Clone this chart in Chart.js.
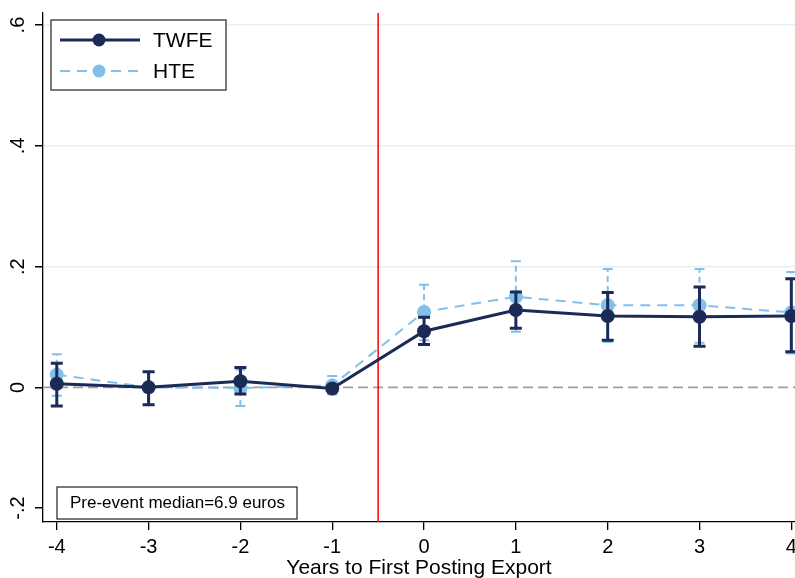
<!DOCTYPE html>
<html>
<head>
<meta charset="utf-8">
<script src="https://cdn.jsdelivr.net/npm/chart.js@4"></script>
<style>
  body { margin: 0; background: #fff; }
  #wrap { width: 795px; height: 578px; }
</style>
</head>
<body>
<div id="wrap"><canvas id="myChart" width="795" height="578"></canvas></div>
<script>
// event time
const years = [-4, -3, -2, -1, 0, 1, 2, 3, 4];
// TWFE estimates and 95% CI
const twfe   = [0.006, 0.000, 0.010, -0.002, 0.093, 0.128, 0.118, 0.117, 0.118];
const twfeLo = [-0.031, -0.029, -0.011, -0.005, 0.071, 0.098, 0.078, 0.068, 0.059];
const twfeHi = [0.040, 0.026, 0.033, 0.002, 0.116, 0.158, 0.157, 0.166, 0.180];
// HTE estimates and 95% CI
const hte   = [0.021, 0.000, -0.001, 0.003, 0.125, 0.150, 0.136, 0.136, 0.124];
const hteLo = [-0.014, 0.000, -0.031, -0.012, 0.078, 0.092, 0.075, 0.074, 0.056];
const hteHi = [0.055, 0.000, 0.029, 0.019, 0.170, 0.209, 0.196, 0.196, 0.191];

const xTicks = [-4, -3, -2, -1, 0, 1, 2, 3, 4];
const yTicks = [-0.2, 0, 0.2, 0.4, 0.6];
const yTickLabels = ['-.2', '0', '.2', '.4', '.6'];
const eventLine = -0.5;
const noteText = 'Pre-event median=6.9 euros';

const NAVY = '#1b2a56';
const LIGHT = '#82c0eb';
const FONT = '"Liberation Sans", Arial, Helvetica, sans-serif';

const errBars = [
  { lo: twfeLo, hi: twfeHi, color: NAVY, width: 3, cap: 6, dash: [] },
  { lo: hteLo, hi: hteHi, color: LIGHT, width: 2, cap: 5, dash: [6, 4] }
];

const extras = {
  id: 'extras',
  beforeDatasetsDraw(chart) {
    const { ctx, chartArea, scales: { x, y } } = chart;
    ctx.save();
    // zero reference line
    ctx.strokeStyle = '#9f9f9f';
    ctx.lineWidth = 1.6;
    ctx.setLineDash([10, 5]);
    ctx.beginPath();
    ctx.moveTo(chartArea.left, y.getPixelForValue(0));
    ctx.lineTo(chartArea.right, y.getPixelForValue(0));
    ctx.stroke();
    ctx.setLineDash([]);
    // event line
    ctx.strokeStyle = '#ff0000';
    ctx.lineWidth = 1.5;
    ctx.beginPath();
    ctx.moveTo(x.getPixelForValue(eventLine), chartArea.top);
    ctx.lineTo(x.getPixelForValue(eventLine), chartArea.bottom);
    ctx.stroke();
    ctx.restore();
  },
  beforeDatasetDraw(chart, args) {
    const { ctx, scales: { x, y } } = chart;
    const eb = errBars[args.index];
    ctx.save();
    ctx.strokeStyle = eb.color;
    ctx.lineWidth = eb.width;
    years.forEach((yr, i) => {
      const px = x.getPixelForValue(yr);
      const pl = y.getPixelForValue(eb.lo[i]);
      const ph = y.getPixelForValue(eb.hi[i]);
      if (Math.abs(pl - ph) < 1) return;
      ctx.setLineDash(eb.dash);
      ctx.beginPath();
      ctx.moveTo(px, pl);
      ctx.lineTo(px, ph);
      ctx.stroke();
      ctx.setLineDash([]);
      ctx.beginPath();
      ctx.moveTo(px - eb.cap, pl); ctx.lineTo(px + eb.cap, pl);
      ctx.moveTo(px - eb.cap, ph); ctx.lineTo(px + eb.cap, ph);
      ctx.stroke();
    });
    ctx.restore();
  },
  afterDraw(chart) {
    const { ctx, scales: { y } } = chart;
    ctx.save();
    // rotated y tick labels
    ctx.fillStyle = '#000';
    ctx.font = '20px ' + FONT;
    ctx.textAlign = 'center';
    ctx.textBaseline = 'middle';
    yTicks.forEach((v, i) => {
      ctx.save();
      ctx.translate(18, y.getPixelForValue(v));
      ctx.rotate(-Math.PI / 2);
      ctx.fillText(yTickLabels[i], 0, 0);
      ctx.restore();
    });
    // legend
    ctx.fillStyle = '#fff';
    ctx.fillRect(51, 20, 175, 70);
    ctx.strokeStyle = '#333';
    ctx.lineWidth = 1.3;
    ctx.strokeRect(51, 20, 175, 70);
    const items = [
      { label: 'TWFE', color: NAVY, width: 3, dash: [], yy: 40 },
      { label: 'HTE', color: LIGHT, width: 2, dash: [10, 7], yy: 71 }
    ];
    items.forEach(it => {
      ctx.strokeStyle = it.color;
      ctx.lineWidth = it.width;
      ctx.setLineDash(it.dash);
      ctx.beginPath();
      ctx.moveTo(60, it.yy);
      ctx.lineTo(140, it.yy);
      ctx.stroke();
      ctx.setLineDash([]);
      ctx.fillStyle = it.color;
      ctx.beginPath();
      ctx.arc(99, it.yy, 6.5, 0, Math.PI * 2);
      ctx.fill();
      ctx.fillStyle = '#000';
      ctx.font = '21px ' + FONT;
      ctx.textAlign = 'left';
      ctx.textBaseline = 'middle';
      ctx.fillText(it.label, 153, it.yy + 1);
    });
    // note box
    ctx.fillStyle = '#fff';
    ctx.fillRect(57, 487, 240, 32);
    ctx.strokeStyle = '#333';
    ctx.lineWidth = 1.3;
    ctx.strokeRect(57, 487, 240, 32);
    ctx.fillStyle = '#000';
    ctx.font = '17px ' + FONT;
    ctx.textAlign = 'left';
    ctx.textBaseline = 'middle';
    ctx.fillText(noteText, 70, 503);
    ctx.restore();
  }
};

new Chart(document.getElementById('myChart'), {
  type: 'line',
  data: {
    datasets: [{
      label: 'TWFE',
      data: years.map((yr, i) => ({ x: yr, y: twfe[i] })),
      borderColor: NAVY,
      backgroundColor: NAVY,
      borderWidth: 3,
      pointRadius: 7,
      pointBorderWidth: 0,
      tension: 0
    },
    {
      label: 'HTE',
      data: years.map((yr, i) => ({ x: yr, y: hte[i] })),
      borderColor: LIGHT,
      backgroundColor: LIGHT,
      borderWidth: 2,
      borderDash: [10, 7],
      pointRadius: 7,
      pointBorderWidth: 0,
      tension: 0
    }]
  },
  options: {
    responsive: false,
    animation: false,
    layout: { autoPadding: false, padding: { top: 13, right: 0, left: 0, bottom: 0 } },
    plugins: {
      legend: { display: false },
      tooltip: { enabled: false }
    },
    scales: {
      x: {
        type: 'linear',
        min: -4.15,
        max: 4.04,
        afterBuildTicks: s => { s.ticks = xTicks.map(v => ({ value: v })); },
        afterFit: s => { s.height = 56; s.paddingLeft = 0; s.paddingRight = 0; },
        border: { display: true, color: '#000', width: 1.3 },
        grid: { drawOnChartArea: false, drawTicks: true, tickLength: 8, color: '#000', lineWidth: 1.3 },
        ticks: { color: '#000', font: { family: FONT, size: 20 }, padding: 5, maxRotation: 0 },
        title: {
          display: true,
          text: 'Years to First Posting Export',
          color: '#000',
          font: { family: FONT, size: 21 },
          padding: { top: 0, bottom: -3 }
        }
      },
      y: {
        type: 'linear',
        min: -0.223,
        max: 0.62,
        afterBuildTicks: s => { s.ticks = yTicks.map(v => ({ value: v })); },
        afterFit: s => { s.width = 43; },
        border: { display: true, color: '#000', width: 1.3 },
        grid: {
          drawTicks: true,
          tickLength: 8,
          tickColor: '#000',
          lineWidth: 1.5,
          color: c => (c.tick && c.tick.value > 0.1) ? '#e6eff1' : 'rgba(0,0,0,0)'
        },
        ticks: { display: false }
      }
    }
  },
  plugins: [extras]
});
</script>
</body>
</html>
